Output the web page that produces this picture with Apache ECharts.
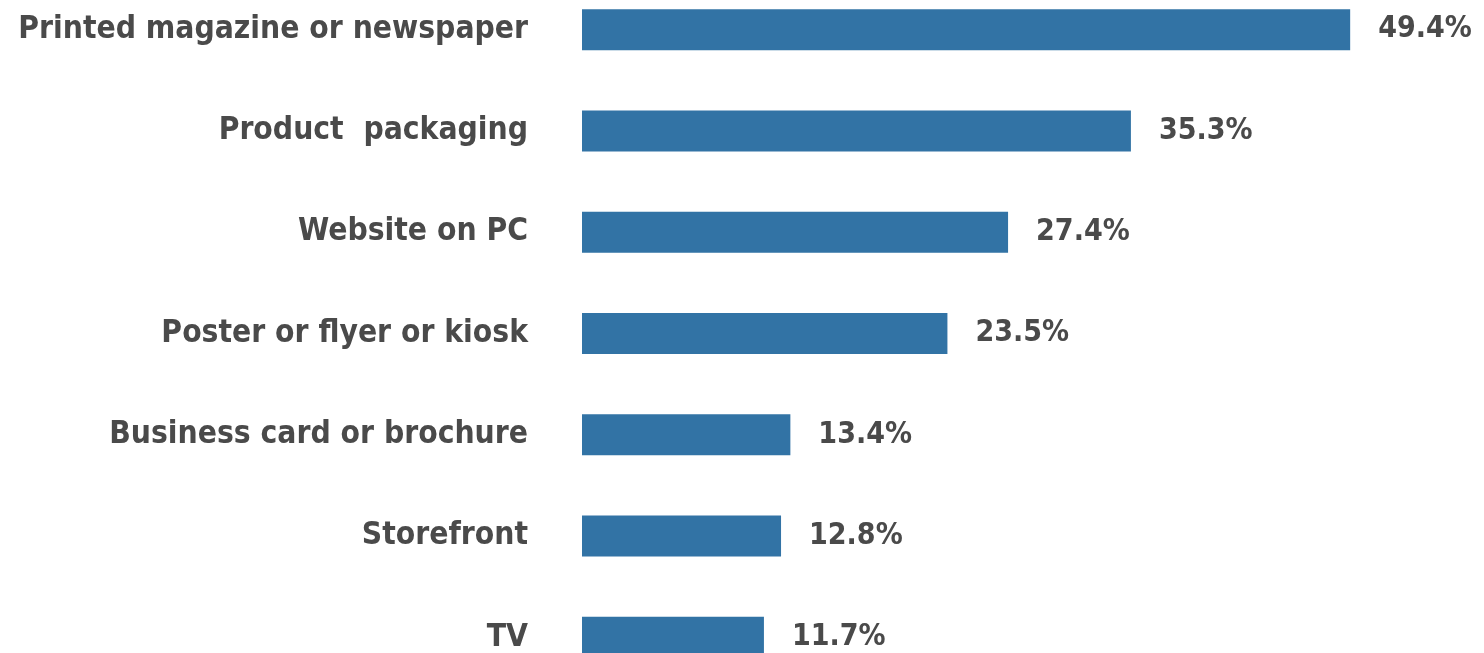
<!DOCTYPE html>
<html>
<head>
<meta charset="utf-8">
<script src="https://cdn.jsdelivr.net/npm/echarts@6/dist/echarts.min.js"></script>
<style>
  html, body { margin: 0; padding: 0; background: #ffffff; overflow: hidden; }
  body { width: 1484px; height: 653px; position: relative; }
  /* the plot runs a little past the top and bottom edges of the page */
  #chart { position: absolute; left: 0; top: -21px; width: 1484px; height: 709px; }
</style>
</head>
<body>
<div id="chart"></div>
<script>
// Where people encountered the code, share of respondents (%)
const categories = [
  'Printed magazine or newspaper',
  'Product  packaging',
  'Website on PC',
  'Poster or flyer or kiosk',
  'Business card or brochure',
  'Storefront',
  'TV'
];
const shares = [49.4, 35.3, 27.4, 23.5, 13.4, 12.8, 11.7];

const textFont = '"DejaVu Sans Condensed", "DejaVu Sans", sans-serif';
const textColor = '#4a4a4a';

const chart = echarts.init(document.getElementById('chart'), null, { renderer: 'canvas' });
chart.setOption({
  animation: false,
  backgroundColor: '#ffffff',
  grid: { left: 582, top: 0, width: 777.5, height: 709 },
  xAxis: {
    type: 'value',
    min: 0,
    max: 50,
    show: false
  },
  yAxis: {
    type: 'category',
    data: categories,
    inverse: true,
    axisLine: { show: false },
    axisTick: { show: false },
    splitLine: { show: false },
    axisLabel: {
      margin: 54,
      fontFamily: textFont,
      fontWeight: 'bold',
      fontSize: 31.5,
      color: textColor
    }
  },
  series: [{
    type: 'bar',
    data: shares,
    barWidth: 41,
    itemStyle: { color: '#3273a5' },
    label: {
      show: true,
      position: 'right',
      distance: 28,
      fontFamily: textFont,
      fontWeight: 'bold',
      fontSize: 30,
      color: textColor,
      formatter: p => p.value.toFixed(1) + '%'
    }
  }]
});
</script>
</body>
</html>
